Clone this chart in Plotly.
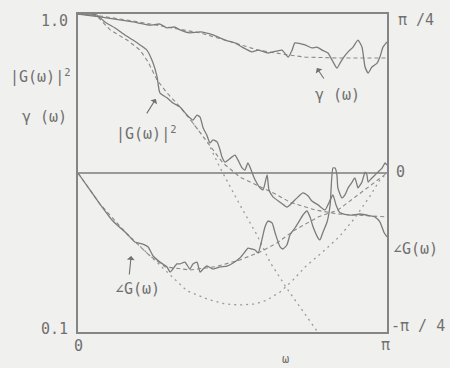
import numpy as np
import plotly.graph_objects as go

# ---- coherence gamma(w): estimate and model (w given as fraction of pi) ----
gam_est_w = [0.000, 0.071, 0.178, 0.233, 0.265, 0.288, 0.314, 0.330, 0.362, 0.395,
             0.437, 0.476, 0.508, 0.531, 0.563, 0.583, 0.615, 0.660, 0.680, 0.693,
             0.702, 0.735, 0.757, 0.773, 0.790, 0.809, 0.822, 0.838, 0.848, 0.858,
             0.874, 0.890, 0.906, 0.919, 0.929, 0.939, 0.951, 0.968, 0.977, 0.987, 1.000]
gam_est = [1.000, 0.979, 0.944, 0.923, 0.930, 0.904, 0.910, 0.891, 0.872, 0.878,
           0.859, 0.828, 0.811, 0.787, 0.760, 0.770, 0.754, 0.770, 0.732, 0.770,
           0.811, 0.799, 0.782, 0.787, 0.770, 0.754, 0.717, 0.676, 0.701, 0.727,
           0.760, 0.787, 0.828, 0.787, 0.681, 0.652, 0.681, 0.701, 0.732, 0.787, 0.817]
gam_mod_w = [0.000, 0.071, 0.178, 0.288, 0.395, 0.476, 0.583, 0.680, 0.735, 0.848, 1.000]
gam_mod = [1.000, 0.986, 0.951, 0.910, 0.872, 0.828, 0.770, 0.743, 0.732, 0.727, 0.727]

# ---- gain |G(w)|^2: estimate, expected value and true system ----
gain_est_w = [0.000, 0.039, 0.061, 0.087, 0.120, 0.152, 0.178, 0.201, 0.223, 0.243,
              0.256, 0.265, 0.288, 0.307, 0.330, 0.353, 0.372, 0.385, 0.395, 0.405,
              0.417, 0.427, 0.437, 0.450, 0.460, 0.466, 0.476, 0.485, 0.508, 0.518,
              0.531, 0.540, 0.550, 0.563, 0.573, 0.589, 0.599, 0.612, 0.618, 0.631,
              0.654, 0.676, 0.686, 0.712, 0.728, 0.744, 0.757, 0.777, 0.799, 0.816,
              0.825, 0.835, 0.848, 0.880, 0.913, 0.945, 0.961, 0.977, 0.990, 1.000]
gain_est = [1.000, 1.000, 0.993, 0.944, 0.904, 0.859, 0.828, 0.799, 0.770, 0.701,
            0.634, 0.565, 0.545, 0.525, 0.510, 0.481, 0.464, 0.481, 0.474, 0.438,
            0.416, 0.393, 0.402, 0.396, 0.373, 0.355, 0.342, 0.347, 0.360, 0.347,
            0.328, 0.323, 0.340, 0.318, 0.301, 0.284, 0.280, 0.312, 0.280, 0.266,
            0.256, 0.247, 0.251, 0.266, 0.274, 0.268, 0.258, 0.251, 0.242, 0.260,
            0.270, 0.251, 0.237, 0.233, 0.235, 0.232, 0.230, 0.222, 0.206, 0.199]
gain_exp_w = [0.000, 0.039, 0.061, 0.104, 0.159, 0.201, 0.227, 0.256, 0.288, 0.330,
              0.372, 0.421, 0.469, 0.524, 0.579, 0.644, 0.686, 0.767, 0.841, 1.000]
gain_exp = [1.000, 1.000, 0.986, 0.891, 0.828, 0.770, 0.706, 0.620, 0.565, 0.510,
            0.454, 0.393, 0.340, 0.307, 0.290, 0.270, 0.256, 0.242, 0.235, 0.230]
gain_true_w = [0.372, 0.421, 0.460, 0.524, 0.579, 0.621, 0.676, 0.718, 0.777, 0.816]
gain_true = [0.454, 0.393, 0.328, 0.251, 0.202, 0.166, 0.137, 0.120, 0.100, 0.088]

# ---- phase angle G(w), in units of pi/4 ----
ph_est_w = [0.000, 0.016, 0.071, 0.113, 0.159, 0.184, 0.210, 0.227, 0.243, 0.265,
            0.288, 0.298, 0.307, 0.320, 0.330, 0.346, 0.362, 0.372, 0.385, 0.395,
            0.405, 0.417, 0.437, 0.460, 0.482, 0.502, 0.524, 0.540, 0.550, 0.563,
            0.573, 0.583, 0.595, 0.605, 0.615, 0.628, 0.638, 0.654, 0.663, 0.676,
            0.686, 0.702, 0.718, 0.728, 0.741, 0.751, 0.761, 0.777, 0.783, 0.793,
            0.806, 0.816, 0.825, 0.832, 0.838, 0.841, 0.854, 0.864, 0.874, 0.887,
            0.896, 0.903, 0.906, 0.919, 0.929, 0.935, 0.939, 0.951, 0.961, 0.971,
            0.984, 0.994, 1.000]
ph_est = [0.000, -0.044, -0.195, -0.302, -0.384, -0.434, -0.447, -0.465, -0.522, -0.560,
          -0.591, -0.623, -0.604, -0.572, -0.572, -0.560, -0.604, -0.572, -0.560, -0.623,
          -0.604, -0.585, -0.604, -0.591, -0.585, -0.566, -0.535, -0.497, -0.472, -0.478,
          -0.484, -0.503, -0.421, -0.340, -0.302, -0.314, -0.377, -0.465, -0.478, -0.453,
          -0.390, -0.346, -0.296, -0.264, -0.239, -0.277, -0.340, -0.409, -0.421, -0.371,
          -0.308, -0.201, 0.031, 0.031, -0.013, -0.094, -0.157, -0.138, -0.094, -0.057,
          -0.031, -0.075, -0.094, -0.057, 0.006, -0.013, -0.057, -0.031, -0.013, 0.006,
          0.031, 0.063, 0.050]
ph_exp_w = [0.000, 0.071, 0.159, 0.233, 0.282, 0.362, 0.443, 0.524, 0.589, 0.644,
            0.702, 0.777, 0.841, 0.906, 0.951, 1.000]
ph_exp = [0.000, -0.195, -0.384, -0.522, -0.590, -0.610, -0.590, -0.547, -0.497, -0.440,
          -0.358, -0.277, -0.233, -0.138, -0.075, 0.000]
ph_true_w = [0.159, 0.233, 0.288, 0.353, 0.417, 0.476, 0.524, 0.573, 0.612, 0.654,
             0.693, 0.735, 0.799, 0.848, 0.896, 0.945, 0.977, 1.000]
ph_true = [-0.384, -0.522, -0.623, -0.742, -0.792, -0.824, -0.830, -0.824, -0.799, -0.748,
           -0.679, -0.591, -0.484, -0.396, -0.283, -0.145, -0.044, 0.000]

# ---- axis tick labels ----
left_ticks = ["1.0", "0.1"]
right_ticks = ["π /4", "0", "-π / 4"]
x_ticks = ["0", "π"]

INK = "#707070"
LINE = "#7c7c7c"
BG = "#f0f0ee"
FONT = dict(family="DejaVu Sans Mono", size=15, color=INK)


def w(vals):
    return np.asarray(vals) * np.pi


def rad(vals):
    return np.asarray(vals) * np.pi / 4


fig = go.Figure()

solid = dict(color=LINE, width=1.3, shape="spline", smoothing=0.5)
dashed = dict(color="#8a8a8a", width=1.1, dash="4px,3px")
dotted = dict(color="#9a9a9a", width=1.3, dash="2px,4px")

# coherence
fig.add_trace(go.Scatter(x=w(gam_mod_w), y=gam_mod, mode="lines", line=dashed, yaxis="y"))
fig.add_trace(go.Scatter(x=w(gam_est_w), y=gam_est, mode="lines", line=solid, yaxis="y"))
# gain
fig.add_trace(go.Scatter(x=w(gain_exp_w), y=gain_exp, mode="lines", line=dashed, yaxis="y"))
fig.add_trace(go.Scatter(x=w(gain_true_w), y=gain_true, mode="lines", line=dotted, yaxis="y"))
fig.add_trace(go.Scatter(x=w(gain_est_w), y=gain_est, mode="lines", line=solid, yaxis="y"))
# phase
fig.add_trace(go.Scatter(x=w(ph_exp_w), y=rad(ph_exp), mode="lines", line=dashed, yaxis="y2"))
fig.add_trace(go.Scatter(x=w(ph_true_w), y=rad(ph_true), mode="lines", line=dotted, yaxis="y2"))
fig.add_trace(go.Scatter(x=w(ph_est_w), y=rad(ph_est), mode="lines", line=solid, yaxis="y2"))

# zero-phase reference line
fig.add_shape(type="line", xref="paper", x0=0, x1=1, yref="y2", y0=0, y1=0,
              line=dict(color=LINE, width=1.4))

axis_common = dict(showgrid=False, zeroline=False, showticklabels=False, ticks="",
                   linecolor="#858585", linewidth=1.5)

fig.update_layout(
    width=450, height=368,
    margin=dict(l=78, r=63, t=14, b=36),
    paper_bgcolor=BG, plot_bgcolor=BG,
    showlegend=False,
    xaxis=dict(range=[0, np.pi], showline=True, mirror=True, **axis_common),
    yaxis=dict(type="log", range=[-1, 0], showline=True, mirror=True, **axis_common),
    yaxis2=dict(range=[-np.pi / 4, np.pi / 4], overlaying="y", side="right",
                showline=False, **axis_common),
)


def label(text, x, y, xanchor="center", size=15):
    fig.add_annotation(text=text, x=x, y=y, xref="paper", yref="paper",
                       xanchor=xanchor, yanchor="middle", showarrow=False,
                       font=dict(family=FONT["family"], size=size, color=INK))


def arrow(x, y, ax, ay):
    fig.add_annotation(text="", x=x, y=y, xref="paper", yref="paper", ax=ax, ay=ay,
                       showarrow=True, arrowhead=1, arrowsize=1.2, arrowwidth=1.1,
                       arrowcolor=INK)


# tick labels
label(left_ticks[0], -0.026, 0.978, "right")
label(left_ticks[1], -0.026, 0.010, "right")
label(right_ticks[0], 1.030, 0.981, "left")
label(right_ticks[1], 1.024, 0.503, "left")
label(right_ticks[2], 1.008, 0.019, "left")
label(x_ticks[0], 0.0, -0.044)
label(x_ticks[1], 0.994, -0.041)

# axis titles
label("ω", 0.670, -0.086, size=12)
label("|G(ω)|<sup>2</sup>", -0.122, 0.805)
label("γ (ω)", -0.110, 0.676)
label("∠G(ω)", 1.014, 0.261, "left")

# curve labels with pointers
label("|G(ω)|<sup>2</sup>", 0.223, 0.626)
arrow(0.252, 0.733, -10, 16)
label("γ (ω)", 0.841, 0.745)
arrow(0.773, 0.830, 8, 12)
label("∠G(ω)", 0.191, 0.135)
arrow(0.172, 0.239, -2, 20)

fig.write_html("out.html")
